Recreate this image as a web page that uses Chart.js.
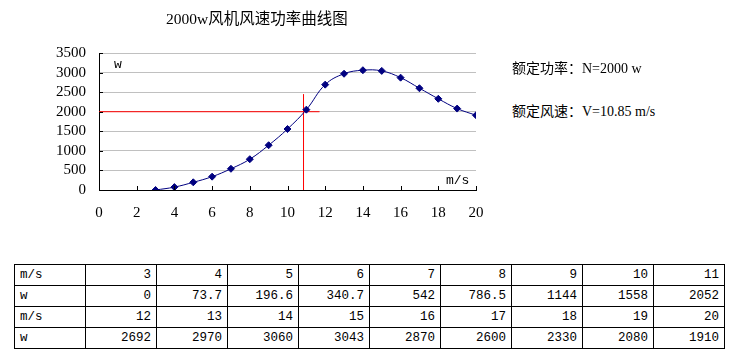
<!DOCTYPE html>
<html>
<head>
<meta charset="utf-8">
<script src="https://cdn.jsdelivr.net/npm/chart.js@4/dist/chart.umd.min.js"></script>
<style>
  body { margin: 0; background: #fff; width: 745px; height: 362px; overflow: hidden; position: relative; }
  #wrap { position: absolute; left: 0; top: 0; width: 500px; height: 230px; }
  .txt { position: absolute; white-space: nowrap; color: #000; }
  #title { left: 166px; top: 6px; font: 15.5px "Liberation Serif", "Noto Sans CJK SC", serif; }
  .note { left: 512px; font: 14px "Liberation Serif", "Noto Sans CJK SC", serif; }
  .unit { font: 13px "Liberation Mono", monospace; }
  table { position: absolute; left: 14px; top: 264px; border-collapse: collapse; table-layout: fixed; font: 12.5px "Liberation Mono", "DejaVu Sans Mono", monospace; }
  td { border: 1px solid #000; width: 71px; height: 20.5px; padding: 0 5px; text-align: right; box-sizing: border-box; line-height: 20px; }
  td:first-child { text-align: left; }
</style>
</head>
<body>
<div id="wrap"><canvas id="chart"></canvas></div>
<div class="txt" id="title">2000w风机风速功率曲线图</div>
<div class="txt unit" style="left:114px;top:57px">w</div>
<div class="txt unit" style="left:446px;top:173px">m/s</div>
<div class="txt note" style="top:57px">额定功率：N=2000 w</div>
<div class="txt note" style="top:100px">额定风速：V=10.85 m/s</div>
<table id="tbl"></table>
<script>
// wind speed (m/s) and power (w)
const speeds = [3, 4, 5, 6, 7, 8, 9, 10, 11, 12, 13, 14, 15, 16, 17, 18, 19, 20];
const power = [0, 73.7, 196.6, 340.7, 542, 786.5, 1144, 1558, 2052, 2692, 2970, 3060, 3043, 2870, 2600, 2330, 2080, 1910];
const powerLabels = ["0", "73.7", "196.6", "340.7", "542", "786.5", "1144", "1558", "2052", "2692", "2970", "3060", "3043", "2870", "2600", "2330", "2080", "1910"];

// rated values and marker line ends
const ratedPower = 2000;
const ratedSpeed = 10.85;
const hLineEnd = 11.7;
const vLineTop = 2450;

// table built from the same arrays, 9 columns per pair of rows
const tbl = document.getElementById("tbl");
for (let k = 0; k < speeds.length; k += 9) {
  let r1 = "<tr><td>m/s</td>", r2 = "<tr><td>w</td>";
  for (let i = k; i < k + 9; i++) {
    r1 += "<td>" + speeds[i] + "</td>";
    r2 += "<td>" + powerLabels[i] + "</td>";
  }
  tbl.innerHTML += r1 + "</tr>" + r2 + "</tr>";
}

// inward tick marks, like the spreadsheet chart
const innerTicks = {
  id: "innerTicks",
  afterDraw(chart) {
    const ctx = chart.ctx, x = chart.scales.x, y = chart.scales.y;
    ctx.save();
    ctx.strokeStyle = "#000";
    ctx.lineWidth = 1;
    ctx.beginPath();
    x.ticks.forEach(t => {
      const px = Math.round(x.getPixelForValue(t.value)) + 0.5;
      ctx.moveTo(px, y.bottom);
      ctx.lineTo(px, y.bottom - 4);
    });
    y.ticks.forEach(t => {
      const py = Math.round(y.getPixelForValue(t.value)) + 0.5;
      ctx.moveTo(x.left, py);
      ctx.lineTo(x.left + 4, py);
    });
    ctx.stroke();
    ctx.restore();
  }
};

const tickFont = { family: "Liberation Serif", size: 15 };

new Chart(document.getElementById("chart"), {
  type: "scatter",
  data: {
    datasets: [
      {
        label: "功率",
        data: speeds.map((s, i) => ({ x: s, y: power[i] })),
        showLine: true,
        borderColor: "#000080",
        backgroundColor: "#000080",
        borderWidth: 1,
        tension: 0.4,
        pointStyle: "rectRot",
        pointRadius: 3.5,
        pointHoverRadius: 3.5
      },
      {
        label: "额定功率",
        data: [{ x: 0, y: ratedPower }, { x: hLineEnd, y: ratedPower }],
        showLine: true,
        borderColor: "#ff0000",
        borderWidth: 1,
        pointRadius: 0
      },
      {
        label: "额定风速",
        data: [{ x: ratedSpeed, y: 0 }, { x: ratedSpeed, y: vLineTop }],
        showLine: true,
        borderColor: "#ff0000",
        borderWidth: 1,
        pointRadius: 0
      }
    ]
  },
  options: {
    responsive: true,
    maintainAspectRatio: false,
    animation: false,
    layout: { padding: { top: 53, right: 24, left: 0, bottom: 0 } },
    plugins: { legend: { display: false }, tooltip: { enabled: false } },
    scales: {
      x: {
        type: "linear",
        min: 0,
        max: 20,
        ticks: { stepSize: 2, autoSkip: false, color: "#000", font: tickFont, padding: 14, callback: v => String(v) },
        grid: { display: false, drawTicks: false },
        border: { display: true, color: "#000" },
        afterFit: s => { s.height = 40; }
      },
      y: {
        min: 0,
        max: 3500,
        ticks: { stepSize: 500, autoSkip: false, color: "#000", font: tickFont, padding: 13, callback: v => String(v) },
        grid: { color: "#c0c0c0", drawTicks: false },
        border: { display: true, color: "#000" },
        afterFit: s => { s.width = 99; }
      }
    }
  },
  plugins: [innerTicks]
});
</script>
</body>
</html>
